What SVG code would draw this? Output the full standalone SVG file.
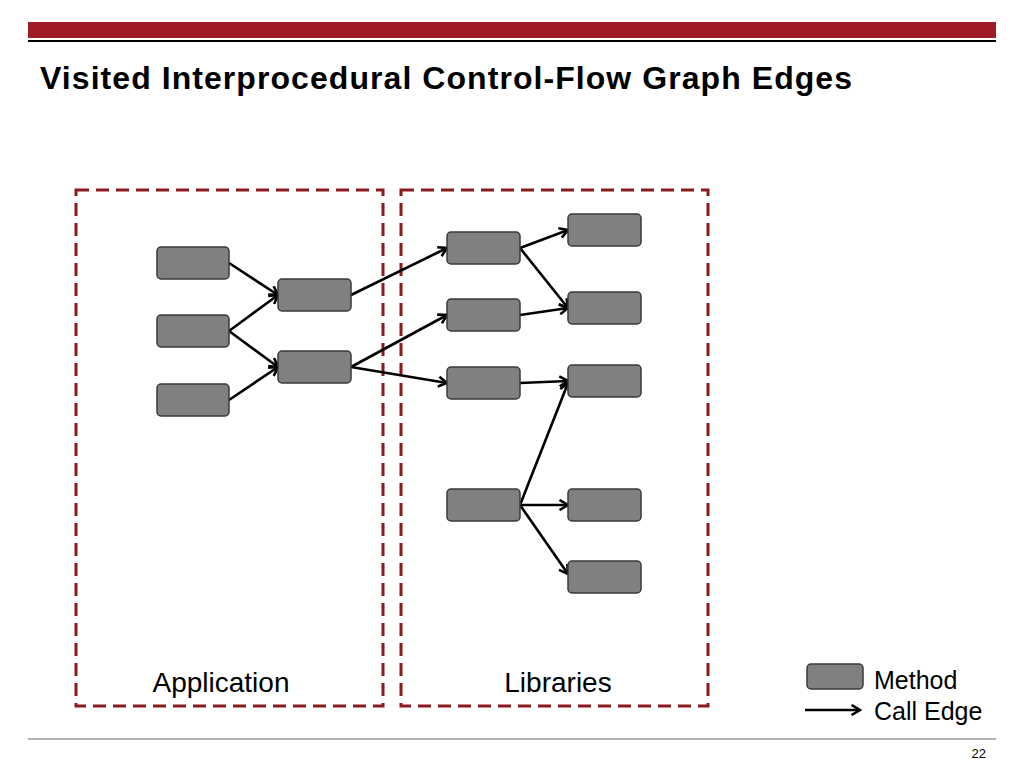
<svg xmlns="http://www.w3.org/2000/svg" width="1024" height="768" viewBox="0 0 1024 768">
<style>
.node{fill:#808080;stroke:#3a3a3a;stroke-width:1.5}
.edge{stroke:#000;stroke-width:2.6;fill:none;marker-end:url(#arr)}
.box{fill:none;stroke:#8b1a1f;stroke-width:3;stroke-dasharray:13 7}
.lbl{font-family:"Liberation Sans",Arial,sans-serif;fill:#000}
</style>
<defs>
<marker id="arr" markerWidth="12" markerHeight="12" viewBox="0 0 12 12" refX="10.5" refY="6" orient="auto" markerUnits="userSpaceOnUse">
<polyline points="2,1 10.5,6 2,11" fill="none" stroke="#000" stroke-width="2.6" stroke-linejoin="miter"/>
</marker>
</defs>
<rect width="1024" height="768" fill="#fff"/>
<rect x="28" y="22" width="968" height="16" fill="#9e1b27"/>
<line x1="28" y1="41" x2="996" y2="41" stroke="#000" stroke-width="2"/>
<text x="40" y="89" class="lbl" font-size="32" font-weight="bold" textLength="812" lengthAdjust="spacing">Visited Interprocedural Control-Flow Graph Edges</text>
<g id="application"><rect class="box" x="76" y="190" width="307" height="516"/><text x="221" y="692" class="lbl" font-size="28" text-anchor="middle">Application</text></g>
<g id="libraries"><rect class="box" x="401" y="190" width="307" height="516"/><text x="558" y="692" class="lbl" font-size="28" text-anchor="middle">Libraries</text></g>
<g id="edges">
<line class="edge" x1="229" y1="263" x2="278" y2="295"/>
<line class="edge" x1="229" y1="331" x2="278" y2="295"/>
<line class="edge" x1="229" y1="331" x2="278" y2="367"/>
<line class="edge" x1="229" y1="400" x2="278" y2="367"/>
<line class="edge" x1="351" y1="295" x2="447" y2="248"/>
<line class="edge" x1="351" y1="367" x2="447" y2="315"/>
<line class="edge" x1="351" y1="367" x2="447" y2="383"/>
<line class="edge" x1="520" y1="248" x2="568" y2="230"/>
<line class="edge" x1="520" y1="248" x2="568" y2="308"/>
<line class="edge" x1="520" y1="315" x2="568" y2="308"/>
<line class="edge" x1="520" y1="383" x2="568" y2="381"/>
<line class="edge" x1="520" y1="505" x2="568" y2="383"/>
<line class="edge" x1="520" y1="505" x2="568" y2="505"/>
<line class="edge" x1="520" y1="505" x2="568" y2="574"/>
</g>
<g id="a1"><rect class="node" x="157" y="247" width="72" height="32" rx="4"/></g>
<g id="a2"><rect class="node" x="157" y="315" width="72" height="32" rx="4"/></g>
<g id="a3"><rect class="node" x="157" y="384" width="72" height="32" rx="4"/></g>
<g id="a4"><rect class="node" x="278" y="279" width="73" height="32" rx="4"/></g>
<g id="a5"><rect class="node" x="278" y="351" width="73" height="32" rx="4"/></g>
<g id="l1"><rect class="node" x="447" y="232" width="73" height="32" rx="4"/></g>
<g id="l2"><rect class="node" x="447" y="299" width="73" height="32" rx="4"/></g>
<g id="l3"><rect class="node" x="447" y="367" width="73" height="32" rx="4"/></g>
<g id="l4"><rect class="node" x="447" y="489" width="73" height="32" rx="4"/></g>
<g id="r1"><rect class="node" x="568" y="214" width="73" height="32" rx="4"/></g>
<g id="r2"><rect class="node" x="568" y="292" width="73" height="32" rx="4"/></g>
<g id="r3"><rect class="node" x="568" y="365" width="73" height="32" rx="4"/></g>
<g id="r4"><rect class="node" x="568" y="489" width="73" height="32" rx="4"/></g>
<g id="r5"><rect class="node" x="568" y="561" width="73" height="32" rx="4"/></g>
<g id="legend">
<rect class="node" x="807" y="664" width="56" height="25" rx="4"/>
<text x="874" y="689" class="lbl" font-size="25">Method</text>
<line class="edge" x1="805" y1="710" x2="860" y2="710"/>
<text x="874" y="720" class="lbl" font-size="25">Call Edge</text>
</g>
<line x1="28" y1="739" x2="996" y2="739" stroke="#666" stroke-width="1"/>
<text x="986" y="758" class="lbl" font-size="13" text-anchor="end">22</text>
</svg>
